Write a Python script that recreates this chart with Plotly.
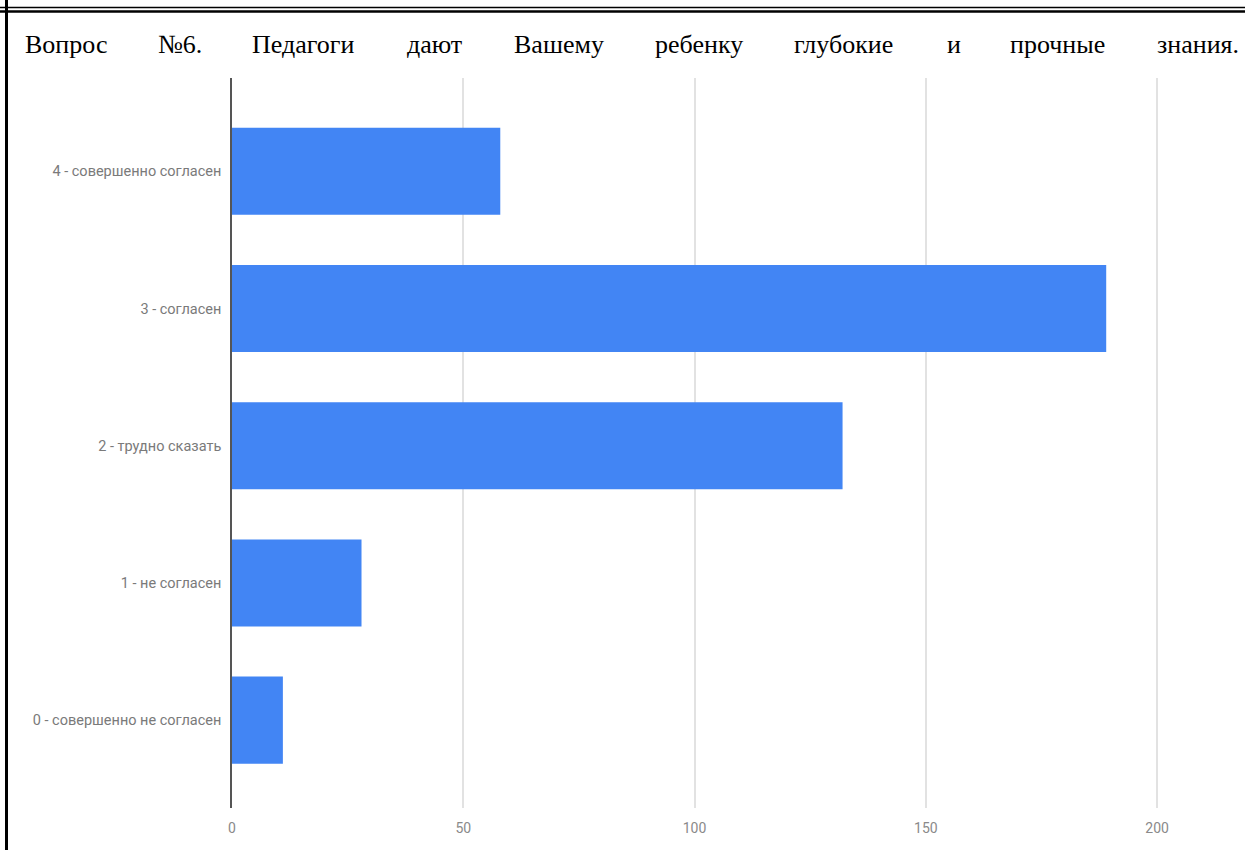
import plotly.graph_objects as go

categories = ["0 - совершенно не согласен", "1 - не согласен", "2 - трудно сказать",
              "3 - согласен", "4 - совершенно согласен"]
values = [11, 28, 132, 189, 58]
x_ticks = [0, 50, 100, 150, 200]
title_words = ["Вопрос", "№6.", "Педагоги", "дают", "Вашему", "ребенку",
               "глубокие", "и", "прочные", "знания."]
word_px = [23, 156, 250, 405, 512, 653, 792, 945, 1008, 1155]

W, H = 1245, 850
L, R, T, B = 232, 25, 78, 42
PW = W - L - R
PH = H - T - B


def px_x(p):
    return (p - L) / PW


def px_y(p):
    return 1 - (p - T) / PH


fig = go.Figure(go.Bar(
    x=values, y=categories, orientation="h",
    marker=dict(color="#4285F4", line=dict(width=0)),
    hoverinfo="x+y",
))

annotations = []
for w, p in zip(title_words, word_px):
    annotations.append(dict(
        text=w, x=px_x(p), y=px_y(44), xref="paper", yref="paper",
        xanchor="left", yanchor="middle", showarrow=False,
        font=dict(family="Liberation Serif", size=26, color="#000000"),
    ))

shapes = [
    dict(type="line", xref="paper", yref="paper", x0=px_x(0), x1=px_x(W),
         y0=px_y(7.5), y1=px_y(7.5), line=dict(color="#000000", width=1.5)),
    dict(type="line", xref="paper", yref="paper", x0=px_x(0), x1=px_x(W),
         y0=px_y(11.5), y1=px_y(11.5), line=dict(color="#000000", width=2.5)),
    dict(type="line", xref="paper", yref="paper", x0=px_x(6.5), x1=px_x(6.5),
         y0=px_y(0), y1=px_y(H), line=dict(color="#000000", width=3)),
]

fig.update_layout(
    width=W, height=H,
    margin=dict(l=L, r=R, t=T, b=B, pad=0),
    paper_bgcolor="#ffffff", plot_bgcolor="#ffffff",
    showlegend=False,
    bargap=0.365,
    annotations=annotations,
    shapes=shapes,
    font=dict(family="Roboto", color="#7a7a7a", size=14.5),
    xaxis=dict(
        range=[0, 213.6], tickvals=x_ticks, showgrid=True, gridcolor="#e2e2e2",
        gridwidth=1.5, zeroline=False, showline=False, ticks="",
        ticklabelstandoff=10, tickfont=dict(size=14, color="#8a8a8a"),
        fixedrange=True,
    ),
    yaxis=dict(
        categoryorder="array", categoryarray=categories,
        range=[-0.64, 4.68], showgrid=False, zeroline=False,
        showline=True, linecolor="#555555", linewidth=1.5, ticks="",
        ticklabelstandoff=6, tickfont=dict(size=14.5, color="#7a7a7a"),
        fixedrange=True,
    ),
)

fig.write_html(
    "out.html",
    config={"displayModeBar": False},
    post_script="document.body.style.margin='0';document.body.style.overflow='hidden';",
)
